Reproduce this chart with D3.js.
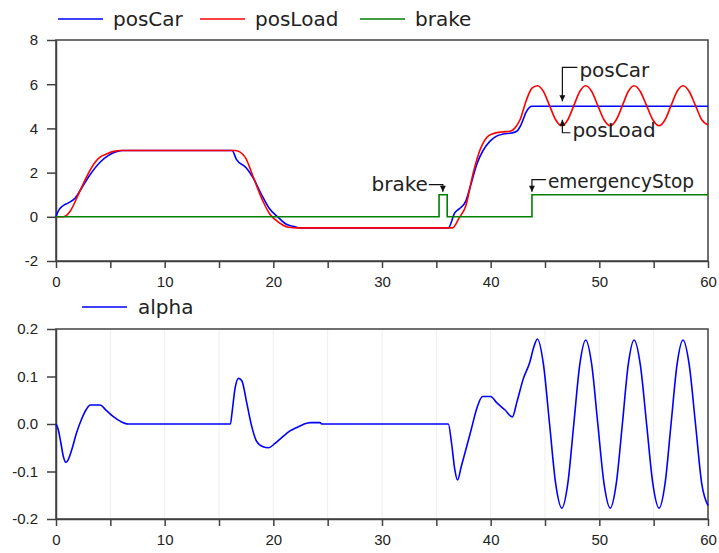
<!DOCTYPE html>
<html>
<head>
<meta charset="utf-8">
<script src="https://cdn.jsdelivr.net/npm/d3@7"></script>
<style>
  body { margin: 0; background: #fff; }
  svg { display: block; }
  .axis path, .axis line { stroke: #404040; stroke-width: 1.5; }
  .axis text { font-family: "Liberation Sans", Arial, sans-serif; font-size: 15px; fill: #222; }
  .legend, .note { font-family: "DejaVu Sans", sans-serif; font-size: 20px; fill: #222; }
  .frame { fill: none; stroke: #404040; stroke-width: 1.5; }
  .grid { stroke: #eeeeee; stroke-width: 1; }
</style>
</head>
<body>
<div id="chart"></div>
<script>
/* values */
var posCarT = [0, 0.2, 0.65, 1.1, 1.75, 2.35, 3.1, 4.05, 4.8, 5.4, 6.1, 16.2, 16.6, 17.5, 18.1, 19.0, 19.6, 20.4, 21.2, 22.0, 22.4,
  36.1, 36.7, 37.1, 37.7, 38.2, 38.7, 39.3, 39.9, 40.5, 41.15, 41.9, 42.4, 42.8, 43.3, 43.8, 60];
var posCarV = [0, 0.25, 0.5, 0.62, 0.84, 1.29, 1.88, 2.47, 2.77, 2.92, 3.0, 3.0, 2.6, 2.22, 1.8, 0.92, 0.4, 0, -0.34, -0.45, -0.5,
  -0.5, 0.18, 0.36, 0.7, 1.5, 2.35, 3.0, 3.4, 3.64, 3.75, 3.79, 3.87, 4.17, 4.77, 5.0, 5.0];

var posLoadT = [0, 0.7, 1.3, 2.05, 2.8, 3.6, 4.05, 4.65, 5.3, 6.0, 16.5, 17.4, 18.15, 19.05, 19.7, 20.15, 20.9, 21.4, 22.2,
  36.5, 37.1, 37.7, 38.4, 39.0, 39.6, 40.2, 41.0, 41.8, 42.2, 42.7, 43.3, 43.8,
  44.3, 44.86, 45.42, 45.98, 46.55, 47.1, 47.65, 48.2, 48.75, 49.3, 49.86, 50.43, 51.0, 51.56, 52.12, 52.66,
  53.2, 53.77, 54.35, 54.92, 55.5, 56.05, 56.6, 57.15, 57.7, 58.27, 58.85, 59.42, 60.0];
var posLoadV = [0, 0, 0.25, 1.0, 1.8, 2.47, 2.7, 2.84, 2.96, 3.0, 3.0, 2.7, 1.8, 0.7, 0.1, -0.12, -0.38, -0.47, -0.5,
  -0.5, -0.05, 0.48, 2.0, 3.0, 3.57, 3.76, 3.84, 3.87, 4.0, 4.39, 5.3, 5.82,
  5.93, 5.67, 5.03, 4.39, 4.12, 4.39, 5.03, 5.67, 5.93, 5.67, 5.03, 4.39, 4.12, 4.39, 5.03, 5.67,
  5.93, 5.67, 5.03, 4.39, 4.12, 4.39, 5.03, 5.67, 5.93, 5.67, 5.03, 4.39, 4.15];

var brakeT = [0, 35.25, 36.0, 43.8, 60];
var brakeV = [0, 1, 0, 1, 1];

var alphaT = [0, 0.2, 0.45, 0.67, 0.92, 1.13, 1.45, 1.9, 2.35, 2.8, 3.15, 4.05, 4.65, 5.25, 5.9, 6.65,
  16.05, 16.2, 16.47, 16.8, 17.1, 17.55, 18.0, 18.45, 19.05, 19.55, 20.15, 20.9, 21.5, 22.1, 22.75, 23.4, 24.3, 24.45,
  36.1, 36.4, 36.7, 36.95, 37.3, 37.8, 38.25, 38.7, 39.25, 40.0, 40.55, 41.3, 42.0, 42.4, 43.0, 43.6, 43.97,
  44.3, 44.86, 45.42, 45.98, 46.55, 47.1, 47.65, 48.2, 48.75, 49.3, 49.86, 50.43, 51.0, 51.56, 52.12, 52.66,
  53.2, 53.77, 54.35, 54.92, 55.5, 56.05, 56.6, 57.15, 57.7, 58.27, 58.85, 59.42, 60.0];
var alphaV = [0, -0.011, -0.04, -0.068, -0.081, -0.075, -0.054, -0.018, 0.01, 0.031, 0.04, 0.04, 0.028, 0.016, 0.006, 0,
  0, 0.024, 0.074, 0.096, 0.091, 0.045, -0.004, -0.036, -0.048, -0.05, -0.041, -0.026, -0.015, -0.008, -0.001, 0.003, 0.003, 0,
  0, -0.04, -0.096, -0.118, -0.089, -0.047, -0.008, 0.031, 0.058, 0.058, 0.045, 0.03, 0.015, 0.045, 0.095, 0.13, 0.162,
  0.179, 0.125, 0, -0.125, -0.177, -0.125, 0, 0.125, 0.177, 0.125, 0, -0.125, -0.177, -0.125, 0, 0.125,
  0.177, 0.125, 0, -0.125, -0.177, -0.125, 0, 0.125, 0.177, 0.125, 0, -0.125, -0.172];

var xTicks = [0, 5, 10, 15, 20, 25, 30, 35, 40, 45, 50, 55, 60];
var topYTicks = [-2, 0, 2, 4, 6, 8];
var botYTicks = [-0.2, -0.1, 0, 0.1, 0.2];

var w = 719, h = 553;
var left = 56, right = 708;

var svg = d3.select("#chart").append("svg").attr("width", w).attr("height", h);

var xScale = d3.scaleLinear().domain([0, 60]).range([left, right]);
var yTop = d3.scaleLinear().domain([-2, 8]).range([261, 40]);
var yBot = d3.scaleLinear().domain([-0.2, 0.2]).range([519, 329]);

function zip(ts, vs) {
	return ts.map(function (t, i) { return [t, vs[i]]; });
}

var xFmt = function (d) { return d % 10 === 0 ? String(d) : ""; };

/* faint vertical grid on the lower plot */
svg.append("g").selectAll("line").data(xTicks.slice(1, -1)).enter()
	.append("line")
	.attr("class", "grid")
	.attr("x1", function (d) { return xScale(d); })
	.attr("x2", function (d) { return xScale(d); })
	.attr("y1", yBot.range()[1])
	.attr("y2", yBot.range()[0]);

function drawAxes(yScale, yTicks, yFmt) {
	svg.append("rect")
		.attr("class", "frame")
		.attr("x", left).attr("y", yScale.range()[1])
		.attr("width", right - left)
		.attr("height", yScale.range()[0] - yScale.range()[1]);

	svg.append("g")
		.attr("class", "axis")
		.attr("transform", "translate(0," + yScale.range()[0] + ")")
		.call(d3.axisBottom(xScale).tickValues(xTicks).tickFormat(xFmt).tickSizeInner(7).tickSizeOuter(0).tickPadding(8));

	svg.append("g")
		.attr("class", "axis")
		.attr("transform", "translate(" + left + ",0)")
		.call(d3.axisLeft(yScale).tickValues(yTicks).tickFormat(yFmt).tickSizeInner(9).tickSizeOuter(0).tickPadding(9));
}

drawAxes(yTop, topYTicks, function (d) { return String(d); });
drawAxes(yBot, botYTicks, function (d) { return d.toFixed(1); });

var lineTop = d3.line()
	.x(function (d) { return xScale(d[0]); })
	.y(function (d) { return yTop(d[1]); })
	.curve(d3.curveMonotoneX);

var lineBrake = d3.line()
	.x(function (d) { return xScale(d[0]); })
	.y(function (d) { return yTop(d[1]); })
	.curve(d3.curveStepAfter);

var lineBot = d3.line()
	.x(function (d) { return xScale(d[0]); })
	.y(function (d) { return yBot(d[1]); })
	.curve(d3.curveMonotoneX);

svg.append("path").datum(zip(posCarT, posCarV))
	.attr("d", lineTop).attr("fill", "none").attr("stroke", "#0000ff").attr("stroke-width", 1.6);
svg.append("path").datum(zip(posLoadT, posLoadV))
	.attr("d", lineTop).attr("fill", "none").attr("stroke", "#ff0000").attr("stroke-width", 1.6);
svg.append("path").datum(zip(brakeT, brakeV))
	.attr("d", lineBrake).attr("fill", "none").attr("stroke", "#008000").attr("stroke-width", 1.6);
svg.append("path").datum(zip(alphaT, alphaV))
	.attr("d", lineBot).attr("fill", "none").attr("stroke", "#0000ff").attr("stroke-width", 1.6);

/* legends */
var legendTop = [
	{name: "posCar", color: "#0000ff", x: 58},
	{name: "posLoad", color: "#ff0000", x: 200},
	{name: "brake", color: "#008000", x: 360}
];
var lg = svg.append("g").selectAll("g").data(legendTop).enter().append("g");
lg.append("line")
	.attr("x1", function (d) { return d.x; })
	.attr("x2", function (d) { return d.x + 45; })
	.attr("y1", 19).attr("y2", 19)
	.attr("stroke", function (d) { return d.color; })
	.attr("stroke-width", 1.6);
lg.append("text")
	.attr("class", "legend")
	.attr("x", function (d) { return d.x + 55; })
	.attr("y", 26)
	.text(function (d) { return d.name; });

svg.append("line")
	.attr("x1", 82).attr("x2", 127).attr("y1", 307).attr("y2", 307)
	.attr("stroke", "#0000ff").attr("stroke-width", 1.6);
svg.append("text")
	.attr("class", "legend")
	.attr("x", 138).attr("y", 314)
	.text("alpha");

/* annotations: arrow tip anchored to data, elbow and label offset in px */
var notes = [
	{label: "posCar", t: 46.6, v: 5.0, dy: -5, elbow: -34, dx: 15, anchor: "start", base: 10},
	{label: "posLoad", t: 46.6, v: 4.12, dy: -6, elbow: 13, dx: 8, anchor: "start", base: 4},
	{label: "brake", t: 35.6, v: 1, dy: -3, elbow: -7, dx: -14, anchor: "end", base: 6},
	{label: "emergencyStop", t: 43.8, v: 1, dy: -3, elbow: -12, dx: 14, anchor: "start", base: 8}
];

notes.forEach(function (n) {
	var tx = xScale(n.t);
	var ty = yTop(n.v) + n.dy;
	var ey = ty + n.elbow;
	var ex = tx + n.dx;
	var g = svg.append("g");
	g.append("path")
		.attr("d", "M" + ex + "," + ey + "H" + tx + "V" + ty)
		.attr("fill", "none").attr("stroke", "#111").attr("stroke-width", 1.2);
	var dir = n.elbow < 0 ? 1 : -1;
	g.append("path")
		.attr("d", "M" + tx + "," + ty + "L" + (tx - 3) + "," + (ty - dir * 6) + "L" + (tx + 3) + "," + (ty - dir * 6) + "Z")
		.attr("fill", "#111");
	var t = g.append("text")
		.attr("class", "note")
		.attr("x", ex + (n.anchor === "start" ? 2 : -1))
		.attr("y", ey + n.base)
		.attr("text-anchor", n.anchor)
		.text(n.label);
	if (n.label === "emergencyStop") t.attr("textLength", 146).attr("lengthAdjust", "spacingAndGlyphs");
});
</script>
</body>
</html>
